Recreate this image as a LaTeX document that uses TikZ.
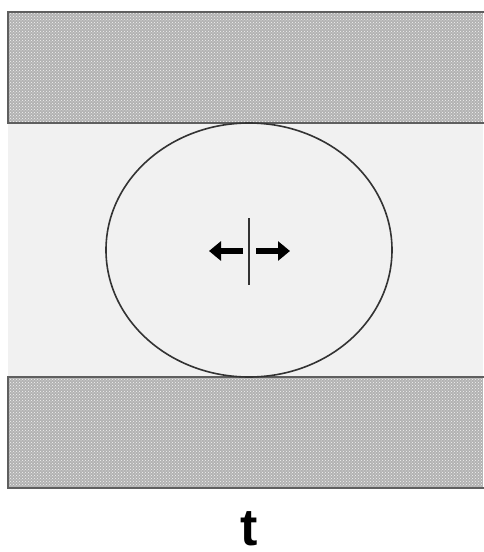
\documentclass[tikz,border=0pt]{standalone}
\usepackage{fontspec}
\setmainfont{Liberation Sans}
\usetikzlibrary{arrows.meta,patterns,shapes.geometric}
\definecolor{bandgray}{RGB}{178,178,178}
\definecolor{bandedge}{RGB}{95,95,95}
\definecolor{gapgray}{RGB}{241,241,241}
\begin{document}
\begin{tikzpicture}[x=1pt,y=-1pt,
  band/.style={fill=bandgray},
  bandline/.style={draw=bandedge,line width=2pt},
  push/.style={line width=6pt,-{Triangle[length=12pt,width=19pt]}}]
\useasboundingbox (0,0) rectangle (483,552);
% light gap region
\fill[gapgray] (8,123) rectangle (483,377);
% bands
\fill[band] (8,12) rectangle (483,123);
\fill[pattern=crosshatch dots,pattern color=white!85!bandgray] (8,12) rectangle (483,123);
\draw[bandline] (486,12) -- (8,12) -- (8,123) -- (486,123);
\fill[band] (8,377) rectangle (483,488);
\fill[pattern=crosshatch dots,pattern color=white!85!bandgray] (8,377) rectangle (483,488);
\draw[bandline] (486,377) -- (8,377) -- (8,488) -- (486,488);
% cell
\node[ellipse,draw=black!80,line width=1.6pt,minimum width=286pt,minimum height=254pt,inner sep=0pt] (cell) at (249,250) {};
% division line and arrows
\coordinate (ltop) at (249,218);
\coordinate (lbot) at (249,285);
\draw[line width=2pt,black!80] (ltop) -- (lbot);
\coordinate (la) at (243,251);
\coordinate (lb) at (209,251);
\coordinate (ra) at (256,251);
\coordinate (rb) at (290,251);
\draw[push] (la) -- (lb);
\draw[push] (ra) -- (rb);
% label
\node[font=\bfseries\fontsize{52}{52}\selectfont,inner sep=0pt,anchor=base] (t) at (249,545) {t};
\end{tikzpicture}
\end{document}
